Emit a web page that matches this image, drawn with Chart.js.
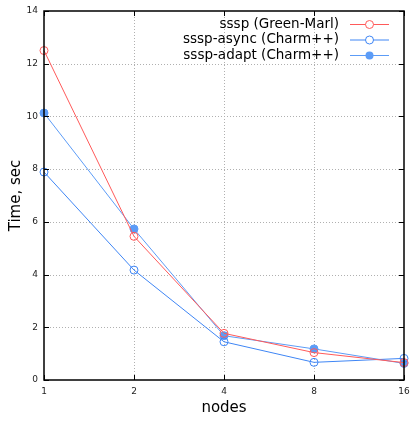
<!DOCTYPE html>
<html lang="en">
<head>
<meta charset="utf-8">
<title>SSSP timing</title>
<script src="https://cdn.jsdelivr.net/npm/chart.js@4.4.0/dist/chart.umd.min.js"></script>
<style>
  body { margin: 0; background: #fff; }
  #wrap { width: 412px; height: 421px; }
</style>
</head>
<body>
<div id="wrap"><canvas id="timeChart"></canvas></div>
<script>
const nodes = ['1', '2', '4', '8', '16'];
const yTicks = [0, 2, 4, 6, 8, 10, 12, 14];

const ssspGreenMarl = [12.5, 5.45, 1.77, 1.04, 0.66];
const ssspAsync = [7.89, 4.17, 1.45, 0.67, 0.82];
const ssspAdapt = [10.13, 5.73, 1.68, 1.18, 0.63];

const seriesNames = ['sssp (Green-Marl)', 'sssp-async (Charm++)', 'sssp-adapt (Charm++)'];
const RED = '#ff5a5a';
const BLUE = '#3f86f5';
const LIGHTBLUE = '#5c9cf7';

const FONT = '"DejaVu Sans", sans-serif';

// gnuplot-like frame: dotted grid, inward ticks on all four sides, box border
const framePlugin = {
  id: 'frame',
  beforeDatasetsDraw(chart) {
    const { ctx, chartArea: a, scales: { x, y } } = chart;
    ctx.save();
    ctx.strokeStyle = '#b0b0b0';
    ctx.lineWidth = 1;
    ctx.setLineDash([1, 2]);
    nodes.forEach((n, i) => {
      const px = Math.round(x.getPixelForValue(i)) + 0.5;
      if (i === 0 || i === nodes.length - 1) return;
      ctx.beginPath(); ctx.moveTo(px, a.top); ctx.lineTo(px, a.bottom); ctx.stroke();
    });
    yTicks.forEach(v => {
      if (v === 0 || v === 14) return;
      const py = Math.round(y.getPixelForValue(v)) + 0.5;
      ctx.beginPath(); ctx.moveTo(a.left, py); ctx.lineTo(a.right, py); ctx.stroke();
    });
    ctx.restore();
  },
  afterDatasetsDraw(chart) {
    const { ctx, chartArea: a, scales: { x, y } } = chart;
    ctx.save();
    ctx.strokeStyle = '#000';
    ctx.lineWidth = 1;
    const t = 5;
    nodes.forEach((n, i) => {
      const px = Math.round(x.getPixelForValue(i)) + 0.5;
      ctx.beginPath();
      ctx.moveTo(px, a.bottom); ctx.lineTo(px, a.bottom - t);
      ctx.moveTo(px, a.top); ctx.lineTo(px, a.top + t);
      ctx.stroke();
    });
    yTicks.forEach(v => {
      const py = Math.round(y.getPixelForValue(v)) + 0.5;
      ctx.beginPath();
      ctx.moveTo(a.left, py); ctx.lineTo(a.left + t, py);
      ctx.moveTo(a.right, py); ctx.lineTo(a.right - t, py);
      ctx.stroke();
    });
    ctx.lineWidth = 1.5;
    ctx.strokeRect(a.left, a.top, a.right - a.left, a.bottom - a.top);

    // key in the upper right corner: label, then line sample with marker
    ctx.font = '13.5px ' + FONT;
    ctx.textAlign = 'right';
    ctx.textBaseline = 'middle';
    const rows = [
      { color: RED, fill: false },
      { color: BLUE, fill: false },
      { color: LIGHTBLUE, fill: true }
    ];
    rows.forEach((r, i) => {
      const ry = 24 + i * 15.5;
      ctx.fillStyle = '#000';
      ctx.fillText(seriesNames[i], 339, ry);
      ctx.strokeStyle = r.color;
      ctx.lineWidth = 1;
      ctx.beginPath(); ctx.moveTo(350, ry + 0.5); ctx.lineTo(389, ry + 0.5); ctx.stroke();
      ctx.beginPath(); ctx.arc(369.5, ry + 0.5, 4, 0, Math.PI * 2);
      if (r.fill) { ctx.fillStyle = r.color; ctx.fill(); }
      else { ctx.fillStyle = '#fff'; ctx.fill(); ctx.stroke(); }
    });
    ctx.restore();
  }
};

function series(label, data, color, filled) {
  return {
    label: label,
    data: data,
    borderColor: color,
    backgroundColor: filled ? color : 'rgba(255,255,255,0)',
    pointBorderColor: color,
    pointBackgroundColor: filled ? color : 'rgba(255,255,255,0)',
    borderWidth: 1,
    pointRadius: 4,
    pointBorderWidth: 1,
    tension: 0,
    clip: false
  };
}

new Chart(document.getElementById('timeChart'), {
  type: 'line',
  data: {
    labels: nodes,
    datasets: [
      series(seriesNames[0], ssspGreenMarl, RED, false),
      series(seriesNames[1], ssspAsync, BLUE, false),
      series(seriesNames[2], ssspAdapt, LIGHTBLUE, true)
    ]
  },
  options: {
    responsive: true,
    maintainAspectRatio: false,
    animation: false,
    layout: { padding: { top: 11, right: 8, left: 0, bottom: 0 } },
    plugins: { legend: { display: false }, tooltip: { enabled: false } },
    scales: {
      x: {
        type: 'category',
        offset: false,
        grid: { display: false, drawTicks: false },
        border: { display: false },
        ticks: { color: '#222', font: { family: FONT, size: 9 }, padding: 6, maxRotation: 0 },
        title: { display: true, text: 'nodes', color: '#000', font: { family: FONT, size: 15 }, padding: { top: 3 } },
        afterFit(s) { s.height = 41; s.paddingRight = 0; s.paddingLeft = 0; }
      },
      y: {
        min: 0,
        max: 14,
        ticks: { stepSize: 2, color: '#222', font: { family: FONT, size: 9 }, padding: 6 },
        grid: { display: false, drawTicks: false },
        border: { display: false },
        title: { display: true, text: 'Time, sec', color: '#000', font: { family: FONT, size: 15 }, padding: { top: 7, bottom: 4 } },
        afterFit(s) { s.width = 44; s.paddingTop = 0; s.paddingBottom = 0; }
      }
    }
  },
  plugins: [framePlugin]
});
</script>
</body>
</html>
